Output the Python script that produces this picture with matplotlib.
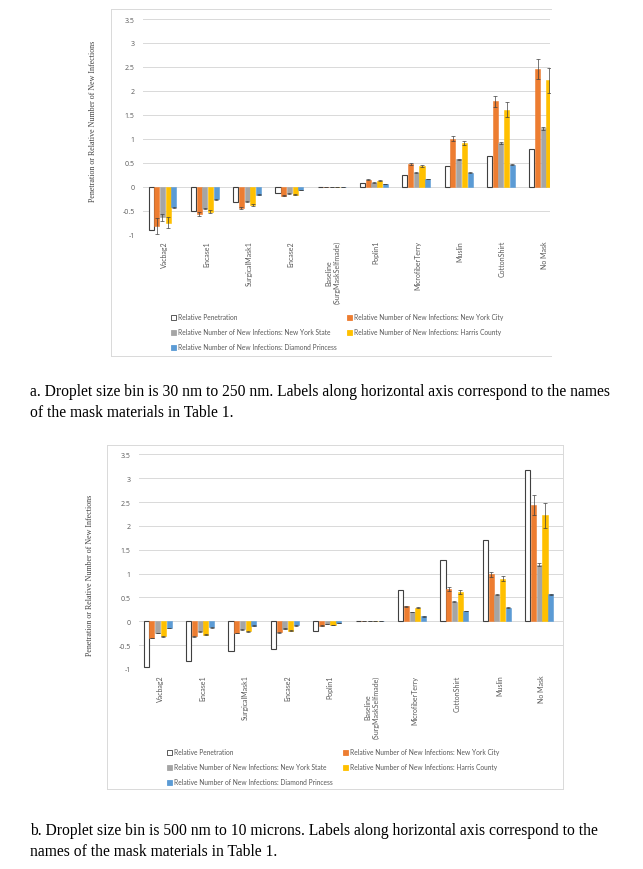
import numpy as np
import matplotlib
matplotlib.use("Agg")
import matplotlib.pyplot as plt
from matplotlib.lines import Line2D
from matplotlib.patches import Patch

W, H = 643, 870

SERIES = ["Relative Penetration",
          "Relative Number of New Infections: New York City",
          "Relative Number of New Infections: New York State",
          "Relative Number of New Infections: Harris County",
          "Relative Number of New Infections: Diamond Princess"]
COLORS = ["white", "#ED7D31", "#A5A5A5", "#FFC000", "#5B9BD5"]

# --- panel a: 30 nm to 250 nm ---
cats_a = ["Vacbag2", "Encase1", "SurgicalMask1", "Encase2",
          "Baseline\n(SurgMaskSelfmade)", "Poplin1", "MicrofiberTerry",
          "Muslin", "CottonShirt", "No Mask"]
pen_a = [-0.91, -0.50, -0.33, -0.13, 0.0, 0.077, 0.24, 0.43, 0.64, 0.78]
nyc_a = [-0.82, -0.57, -0.44, -0.19, 0.0, 0.14, 0.48, 1.00, 1.78, 2.45]
nys_a = [-0.64, -0.45, -0.31, -0.14, 0.0, 0.084, 0.29, 0.57, 0.92, 1.22]
har_a = [-0.75, -0.52, -0.39, -0.17, 0.0, 0.126, 0.43, 0.91, 1.61, 2.22]
dp_a = [-0.43, -0.26, -0.17, -0.07, 0.0, 0.056, 0.16, 0.29, 0.455, 0.57]
nyc_err_a = [0.17, 0.05, 0.02, 0.01, 0.0, 0.01, 0.02, 0.05, 0.12, 0.21]
nys_err_a = [0.07, 0.01, 0.01, 0.01, 0.0, 0.005, 0.01, 0.01, 0.02, 0.03]
har_err_a = [0.12, 0.04, 0.02, 0.01, 0.0, 0.01, 0.02, 0.05, 0.16, 0.26]
dp_err_a = [0.01, 0.01, 0.01, 0.005, 0.0, 0.005, 0.005, 0.005, 0.01, 0.01]

# --- panel b: 500 nm to 10 microns ---
cats_b = ["Vacbag2", "Encase1", "SurgicalMask1", "Encase2", "Poplin1",
          "Baseline\n(SurgMaskSelfmade)", "MicrofiberTerry", "CottonShirt",
          "Muslin", "No Mask"]
pen_b = [-0.965, -0.83, -0.62, -0.59, -0.21, 0.0, 0.665, 1.29, 1.71, 3.17]
nyc_b = [-0.35, -0.31, -0.245, -0.23, -0.09, 0.0, 0.315, 0.68, 0.985, 2.445]
nys_b = [-0.245, -0.21, -0.17, -0.155, -0.06, 0.0, 0.20, 0.405, 0.56, 1.19]
har_b = [-0.31, -0.28, -0.21, -0.20, -0.077, 0.0, 0.285, 0.615, 0.895, 2.22]
dp_b = [-0.14, -0.13, -0.09, -0.085, -0.035, 0.0, 0.105, 0.215, 0.285, 0.57]
nyc_err_b = [0.01, 0.01, 0.01, 0.01, 0.005, 0.0, 0.01, 0.04, 0.05, 0.21]
nys_err_b = [0.01, 0.01, 0.01, 0.01, 0.005, 0.0, 0.005, 0.01, 0.01, 0.03]
har_err_b = [0.01, 0.01, 0.01, 0.01, 0.005, 0.0, 0.01, 0.04, 0.06, 0.26]
dp_err_b = [0.005, 0.005, 0.005, 0.005, 0.003, 0.0, 0.005, 0.005, 0.005, 0.01]

YTICKS = [-1, -0.5, 0, 0.5, 1, 1.5, 2, 2.5, 3, 3.5]
TXT = "#595959"
SANS = ["Lato", "DejaVu Sans"]
TICKFONT = ["Open Sans", "DejaVu Sans"]
SERIF = ["Liberation Serif", "DejaVu Serif"]


def fx(px):
    return px / W


def fy(py):
    return 1 - py / H


def panel(fig, box, vals, errs, cats, xmax, shift):
    left, top, right, bottom = box
    ax = fig.add_axes([fx(left), fy(bottom), fx(right - left),
                       (bottom - top) / H])
    x = np.arange(len(cats))
    pitch, width = 0.135, 0.12
    for i, (v, c) in enumerate(zip(vals, COLORS)):
        pos = x + (i - 2) * pitch + shift
        if i == 0:
            ax.bar(pos, v, width, color="white", edgecolor="#404040",
                   linewidth=0.8, zorder=3)
        else:
            ax.bar(pos, v, width, color=c, edgecolor=c, linewidth=0.4,
                   zorder=3)
            ax.errorbar(pos, v, yerr=errs[i - 1], fmt="none",
                        ecolor="#404040", elinewidth=0.5, capsize=1.4,
                        capthick=0.5, zorder=4)
    ax.set_xlim(-0.5, xmax)
    ax.set_ylim(-1, 3.5)
    ax.set_yticks(YTICKS)
    ax.set_yticklabels([f"{t:g}" for t in YTICKS], fontsize=5.0,
                       color=TXT, family=TICKFONT)
    ax.set_xticks(x)
    ax.set_xticklabels(cats, rotation=90, fontsize=5.0, color=TXT,
                       family=SANS, va="top", ha="center",
                       multialignment="center")
    ax.tick_params(length=0)
    ax.tick_params(axis="y", pad=6)
    ax.tick_params(axis="x", pad=4)
    for s in ax.spines.values():
        s.set_visible(False)
    ax.grid(axis="y", color="#d9d9d9", linewidth=0.7, zorder=0)
    ax.set_axisbelow(True)
    return ax


def legend(fig, x0, y0):
    hs = [Patch(facecolor=c, edgecolor="#404040" if c == "white" else c,
                linewidth=0.6) for c in COLORS]
    order = [0, 2, 4, 1, 3]
    fig.legend([hs[i] for i in order], [SERIES[i] for i in order],
               loc="upper left", bbox_to_anchor=(fx(x0), fy(y0)),
               ncol=2, frameon=False, prop={"family": SANS, "size": 4.8},
               labelcolor=TXT, handlelength=0.7, handleheight=0.7,
               handletextpad=0.3, columnspacing=1.6, labelspacing=1.2,
               borderpad=0, borderaxespad=0)


def frame(fig, l, t, r, b, right_side=True):
    kw = dict(color="#d9d9d9", linewidth=0.7, transform=fig.transFigure)
    fig.add_artist(Line2D([fx(l), fx(r)], [fy(t), fy(t)], **kw))
    fig.add_artist(Line2D([fx(l), fx(r)], [fy(b), fy(b)], **kw))
    fig.add_artist(Line2D([fx(l), fx(l)], [fy(t), fy(b)], **kw))
    if right_side:
        fig.add_artist(Line2D([fx(r), fx(r)], [fy(t), fy(b)], **kw))


fig = plt.figure(figsize=(W / 100, H / 100), dpi=100)

# panel a (right side of the chart is cut off, as in the source)
frame(fig, 111, 10, 551, 357, right_side=False)
panel(fig, (143, 20, 550, 235.5),
      [pen_a, nyc_a, nys_a, har_a, dp_a],
      [nyc_err_a, nys_err_a, har_err_a, dp_err_a], cats_a, 9.12, -0.04)
legend(fig, 171, 314.5)
fig.text(fx(93), fy(121), "Penetration or Relative Number of New Infections",
         rotation=90, ha="center", va="center", fontsize=5.8,
         family=SERIF, color="#404040")

# panel b
frame(fig, 107, 446, 563, 790)
panel(fig, (139, 455.3, 563, 670),
      [pen_b, nyc_b, nys_b, har_b, dp_b],
      [nyc_err_b, nys_err_b, har_err_b, dp_err_b], cats_b, 9.5, -0.06)
legend(fig, 167, 749.5)
fig.text(fx(90), fy(575), "Penetration or Relative Number of New Infections",
         rotation=90, ha="center", va="center", fontsize=5.8,
         family=SERIF, color="#404040")

cap = dict(fontsize=11.25, family=SERIF, color="black", ha="left",
           va="center")
fig.text(fx(30), fy(392), "a. Droplet size bin is 30 nm to 250 nm. Labels "
         "along horizontal axis correspond to the names", **cap)
fig.text(fx(30), fy(413), "of the mask materials in Table 1.", **cap)
fig.text(fx(30), fy(831), "b. Droplet size bin is 500 nm to 10 microns. "
         "Labels along horizontal axis correspond to the", **cap)
fig.text(fx(30), fy(852), "names of the mask materials in Table 1.", **cap)

fig.savefig("out.png", dpi=100)
